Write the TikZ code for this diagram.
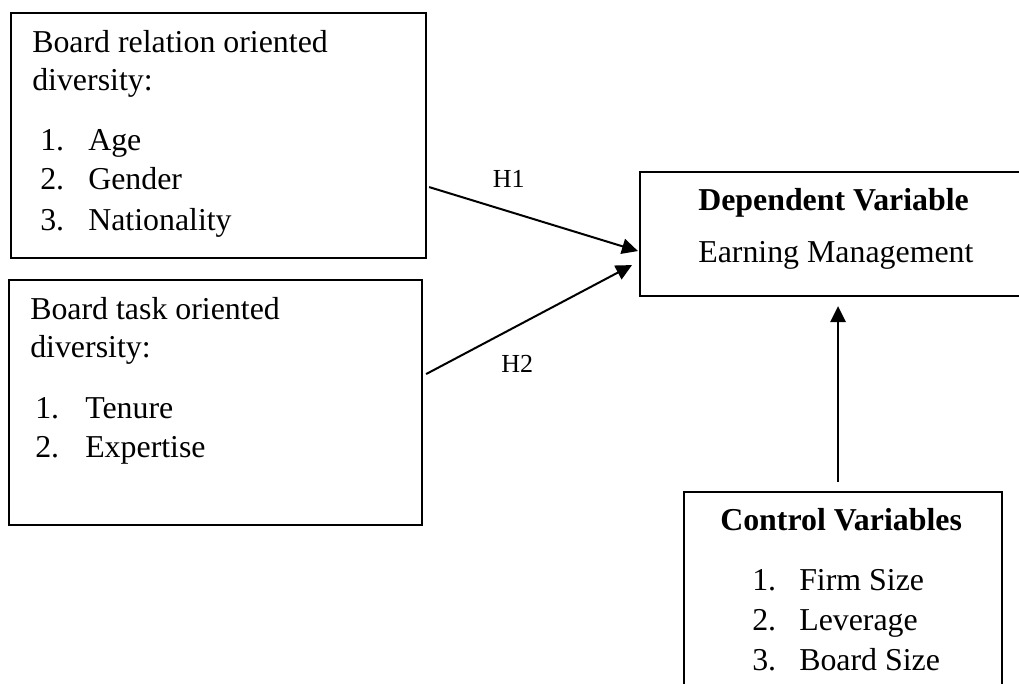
\documentclass[tikz,border=0pt]{standalone}
\usepackage{fontspec}
\setmainfont{Liberation Serif}
\usetikzlibrary{arrows.meta,calc}
\begin{document}
\begin{tikzpicture}[x=0.75pt,y=-0.75pt,
  box/.style={draw, line width=1.6pt, inner sep=0pt, anchor=north west},
  txt/.style={inner sep=0pt, anchor=base west, font=\fontsize{23.9pt}{28pt}\selectfont},
  lbl/.style={inner sep=0pt, anchor=base west, font=\fontsize{19.5pt}{22pt}\selectfont},
  arr/.style={line width=1.5pt, -{Triangle[length=12pt,width=11.5pt]}}]
\clip (0,0) rectangle (1019,684);
% boxes
\node[box, minimum width=415*0.75pt, minimum height=245*0.75pt] (rel) at (10,12) {};
\node[box, minimum width=413*0.75pt, minimum height=245*0.75pt] (task) at (8,279) {};
\node[box, minimum width=396*0.75pt, minimum height=124*0.75pt] (dep) at (639,171) {};
\node[box, minimum width=318*0.75pt, minimum height=209*0.75pt] (ctl) at (683,491) {};
% box 1 text
\node[txt] (r1) at (32,52.7) {Board relation oriented};
\node[txt] (r2) at (32,91) {diversity:};
\node[txt] (rn1) at (40,150.7) {1.};
\node[txt] (ri1) at (88,150.7) {Age};
\node[txt] (rn2) at (40,190) {2.};
\node[txt] (ri2) at (88,190) {Gender};
\node[txt] (rn3) at (40,230) {3.};
\node[txt] (ri3) at (88,230) {Nationality};
% box 2 text
\node[txt] (k1) at (30,319) {Board task oriented};
\node[txt] (k2) at (30,357) {diversity:};
\node[txt] (kn1) at (35,418) {1.};
\node[txt] (ki1) at (85,418) {Tenure};
\node[txt] (kn2) at (35,457) {2.};
\node[txt] (ki2) at (85,457) {Expertise};
% dependent
\node[txt] (d1) at (698,210) {\textbf{Dependent Variable}};
\node[txt] (d2) at (698,262) {Earning Management};
% control
\node[txt] (c1) at (720,530) {\textbf{Control Variables}};
\node[txt] (cn1) at (752,590.7) {1.};
\node[txt] (ci1) at (799,590.7) {Firm Size};
\node[txt] (cn2) at (752,630.5) {2.};
\node[txt] (ci2) at (799,630.5) {Leverage};
\node[txt] (cn3) at (752,670) {3.};
\node[txt] (ci3) at (799,670) {Board Size};
% labels
\node[lbl] (h1) at (492.7,188) {H1};
\node[lbl] (h2) at (501,372.7) {H2};
% arrows
\draw[arr] ($(rel.east)+(2,51.5)$) -- ($(dep.west)+(-1,17)$);
\draw[arr] ($(task.east)+(3,-28.5)$) -- ($(dep.west)+(-7,31)$);
\coordinate (up) at ($(ctl.north)+(-5,-9)$);
\draw[arr] (up) -- ($(up |- dep.south)+(0,9)$);
\end{tikzpicture}
\end{document}
